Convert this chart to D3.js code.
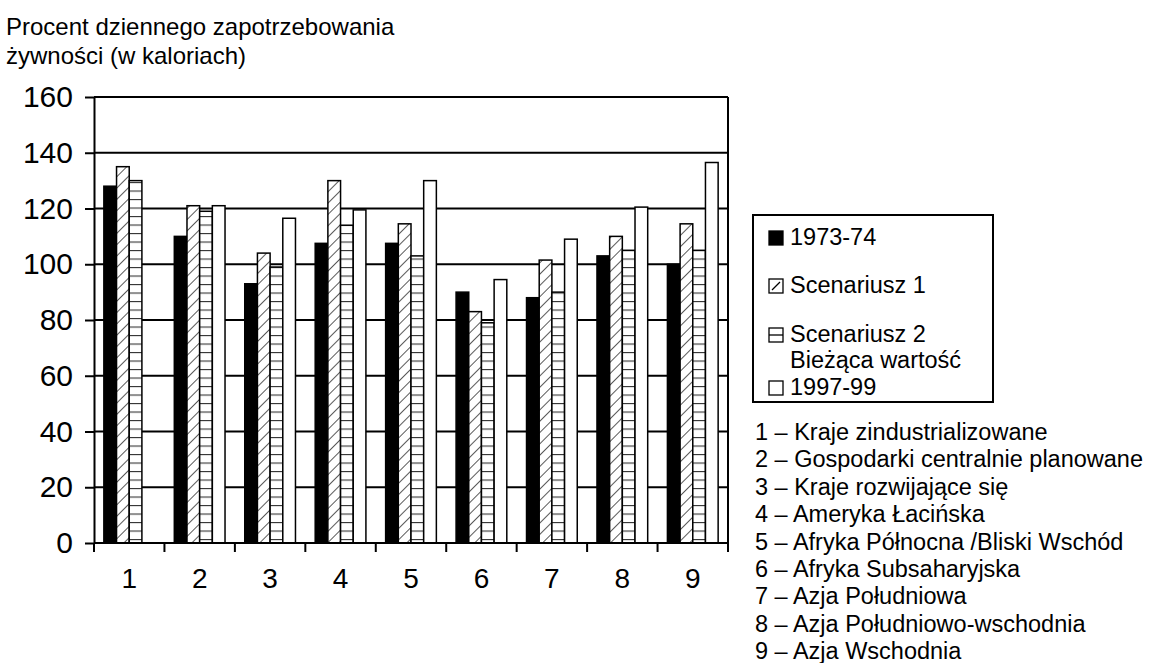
<!DOCTYPE html>
<html>
<head>
<meta charset="utf-8">
<script src="https://cdn.jsdelivr.net/npm/d3@7"></script>
<style>
  body{margin:0;background:#fff;}
  text{font-family:"Liberation Sans",Arial,sans-serif;fill:#000;}
</style>
</head>
<body>
<div class="canvas"></div>
<script>
// data
const categories=['1','2','3','4','5','6','7','8','9'];
const seriesNames=['1973-74','Scenariusz 1','Scenariusz 2','Bieżąca wartość 1997-99'];
const base7374=[128,110,93,107.5,107.5,90,88,103,100];
const scen1=[135,121,104,130,114.5,83,101.5,110,114.5];
const scen2=[130,119,99,114,103,79,90,105,105];
const current=[null,121,116.5,119.5,130,94.5,109,120.5,136.5];
const yTicks=[0,20,40,60,80,100,120,140,160];
const regions=['1 – Kraje zindustrializowane','2 – Gospodarki centralnie planowane','3 – Kraje rozwijające się',
  '4 – Ameryka Łacińska','5 – Afryka Północna /Bliski Wschód','6 – Afryka Subsaharyjska',
  '7 – Azja Południowa','8 – Azja Południowo-wschodnia','9 – Azja Wschodnia'];

const svg=d3.select('.canvas')
      .append('svg')
        .attr('width',1153)
        .attr('height',663);

//patterns
const defs=svg.append('defs');
const diag=defs.append('pattern').attr('id','diag')
      .attr('patternUnits','userSpaceOnUse')
      .attr('width',8).attr('height',8)
      .attr('patternTransform','rotate(45)');
diag.append('rect').attr('width',8).attr('height',8).attr('fill','#fff');
diag.append('line').attr('x1',0).attr('y1',0).attr('x2',0).attr('y2',8)
      .attr('stroke','#000').attr('stroke-width',1.3);
const horiz=defs.append('pattern').attr('id','horiz')
      .attr('patternUnits','userSpaceOnUse')
      .attr('width',8).attr('height',8.5);
horiz.append('rect').attr('width',8).attr('height',8.5).attr('fill','#fff');
horiz.append('line').attr('x1',0).attr('y1',0.5).attr('x2',8).attr('y2',0.5)
      .attr('stroke','#333').attr('stroke-width',1.2);

const fills=['#000','url(#diag)','url(#horiz)','#fff'];

//dimensions
const margin={top:97,left:94,right:425,bottom:120};
const graphWidth=1153-margin.left-margin.right;
const graphHeight=663-margin.top-margin.bottom;

const graph=svg.append('g')
      .attr('transform',`translate(${margin.left},${margin.top})`);

//scales
const y=d3.scaleLinear().domain([0,160]).range([graphHeight,0]);
const x=d3.scaleBand().domain(categories).range([0,graphWidth])
      .paddingInner(0.28).paddingOuter(0.14);
const xs=d3.scaleBand().domain(d3.range(seriesNames.length)).range([0,x.bandwidth()]);

//gridlines behind the bars
graph.append('g').selectAll('line')
  .data(yTicks.filter(d=>d>0))
  .enter().append('line')
    .attr('x1',0).attr('x2',graphWidth)
    .attr('y1',d=>y(d)).attr('y2',d=>y(d))
    .attr('stroke','#000').attr('stroke-width',2);
graph.append('line')
    .attr('x1',graphWidth).attr('x2',graphWidth)
    .attr('y1',y(160)).attr('y2',y(0))
    .attr('stroke','#000').attr('stroke-width',2);

//bars
const allSeries=[base7374,scen1,scen2,current];
const barData=[];
categories.forEach((c,i)=>{
  allSeries.forEach((s,j)=>{
    if(s[i]!=null) barData.push({cat:c,s:j,v:s[i]});
  });
});
graph.selectAll('rect.bar')
  .data(barData)
  .enter().append('rect')
    .attr('class','bar')
    .attr('x',d=>x(d.cat)+xs(d.s))
    .attr('width',xs.bandwidth())
    .attr('y',d=>y(d.v))
    .attr('height',d=>y(0)-y(d.v))
    .attr('fill',d=>fills[d.s])
    .attr('stroke','#000')
    .attr('stroke-width',1.5);

//axes
const yAxis=d3.axisLeft(y).tickValues(yTicks).tickSize(9).tickPadding(12).tickSizeOuter(0);
const yAxisGroup=graph.append('g').call(yAxis);
yAxisGroup.select('.domain').attr('stroke-width',2);
yAxisGroup.selectAll('line').attr('stroke-width',2);
yAxisGroup.selectAll('text').attr('font-size',30).attr('fill','#000');

const xAxisGroup=graph.append('g').attr('transform',`translate(0,${graphHeight})`);
xAxisGroup.append('line').attr('x1',0).attr('x2',graphWidth)
    .attr('stroke','#000').attr('stroke-width',2);
const step=x.step();
xAxisGroup.selectAll('line.tick')
  .data(categories.concat(['end']))
  .enter().append('line')
    .attr('class','tick')
    .attr('x1',(d,i)=>x(categories[0])-step*x.paddingOuter()+i*step)
    .attr('x2',(d,i)=>x(categories[0])-step*x.paddingOuter()+i*step)
    .attr('y1',0).attr('y2',9)
    .attr('stroke','#000').attr('stroke-width',2);
xAxisGroup.selectAll('text')
  .data(categories)
  .enter().append('text')
    .attr('x',d=>x(d)+x.bandwidth()/2)
    .attr('y',45)
    .attr('text-anchor','middle')
    .attr('font-size',28)
    .text(d=>d);

//title
const title=svg.append('text').attr('x',6).attr('y',35).attr('font-size',24);
title.append('tspan').attr('x',6).text('Procent dziennego zapotrzebowania');
title.append('tspan').attr('x',6).attr('dy',29).text('żywności (w kaloriach)');

//legend
const legend=svg.append('g').attr('transform','translate(753,215)');
legend.append('rect').attr('width',240).attr('height',187)
    .attr('fill','#fff').attr('stroke','#000').attr('stroke-width',2);
const legY=[30,78,127,180];
seriesNames.forEach((n,i)=>{
  const g=legend.append('g').attr('transform',`translate(16,${legY[i]})`);
  g.append('rect').attr('x',0).attr('y',-14).attr('width',14).attr('height',14)
    .attr('fill',i==0?'#000':'#fff').attr('stroke','#000').attr('stroke-width',1.3);
  if(i==1) g.append('line').attr('x1',3).attr('y1',-3).attr('x2',11).attr('y2',-11).attr('stroke','#000').attr('stroke-width',1.3);
  if(i==2) g.append('line').attr('x1',0).attr('y1',-7).attr('x2',14).attr('y2',-7).attr('stroke','#000').attr('stroke-width',1.3);
  if(i<3){
    g.append('text').attr('x',21).attr('y',0).attr('font-size',23.5).text(n);
  }else{
    g.append('text').attr('x',21).attr('y',-27).attr('font-size',23.5).text('Bieżąca wartość');
    g.append('text').attr('x',21).attr('y',0).attr('font-size',23.5).text('1997-99');
  }
});

//region list
svg.append('g').selectAll('text')
  .data(regions)
  .enter().append('text')
    .attr('x',755)
    .attr('y',(d,i)=>440+i*27.4)
    .attr('font-size',23.5)
    .text(d=>d);
</script>
</body>
</html>
